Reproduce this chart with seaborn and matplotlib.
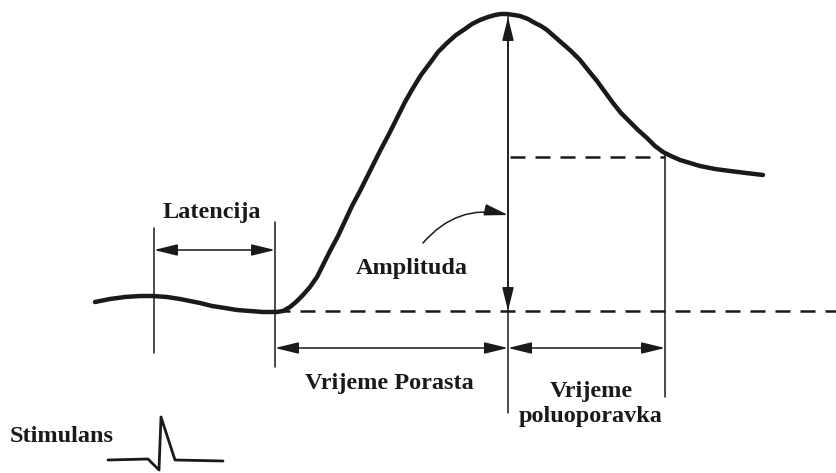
import matplotlib
matplotlib.use("Agg")
import matplotlib.pyplot as plt
import seaborn as sns
import pandas as pd

# response curve (pixel coords, y down)
curve_x = [95, 110, 125, 140, 153, 167, 180, 190, 200, 212, 225, 237, 250, 263, 277,
           283, 290, 296, 303, 310, 317, 323, 330, 338, 345, 352, 360, 370, 380, 389,
           397, 405, 413, 421, 430, 438, 447, 456, 465, 472, 480, 488, 495, 501, 507,
           514, 520, 528, 535, 541, 547, 555, 563, 571, 580, 588, 597, 605, 613, 621,
           630, 638, 647, 655, 663, 671, 680, 690, 700, 715, 730, 746, 763]
curve_y = [302, 299, 297, 296, 296, 297, 299, 301, 303, 306, 308, 310, 311, 312, 312,
           311, 307, 302, 295, 287, 277, 265, 251, 236, 221, 206, 191, 171, 151, 134,
           118, 102, 88, 75, 63, 52, 43, 35, 29, 24, 20, 17, 15, 14, 14,
           15, 16, 19, 23, 26, 30, 37, 44, 51, 60, 70, 81, 92, 103, 113,
           122, 130, 138, 146, 152, 156, 160, 163, 166, 169, 171, 173, 175]

# stimulus blip
stim_x = [108, 148, 159, 161, 175, 223]
stim_y = [460, 459, 470, 417, 460, 461]

labels = ["Latencija", "Amplituda", "Vrijeme Porasta", "Vrijeme\npoluoporavka", "Stimulans"]

# key times / levels
t_stim, t_onset, t_peak, t_half = 154, 275, 508, 665
y_base, y_peak, y_half = 311, 15, 157

sns.set_style("white")
fig = plt.figure(figsize=(8.37, 4.73), dpi=100)
ax = fig.add_axes([0, 0, 1, 1])
ax.set_xlim(0, 837)
ax.set_ylim(473, 0)
ax.axis("off")

ink = "#1a1a1a"
thin = 1.1
font = dict(family="Liberation Serif", fontweight="bold", fontsize=17.5, color=ink)

df = pd.DataFrame({"x": curve_x, "y": curve_y})
sns.lineplot(data=df, x="x", y="y", sort=False, color=ink, lw=3.2, ax=ax,
             solid_joinstyle="round", solid_capstyle="round")
sns.lineplot(x=stim_x, y=stim_y, sort=False, color=ink, lw=2, ax=ax)

# vertical markers
ax.plot([t_stim, t_stim], [228, 353], color=ink, lw=thin)
ax.plot([t_onset, t_onset], [222, 367], color=ink, lw=thin)
ax.plot([t_peak, t_peak], [y_peak, 413], color=ink, lw=thin)
ax.plot([t_half, t_half], [y_half - 2, 397], color=ink, lw=thin)

# dashed reference levels
ax.plot([t_onset, 837], [y_base, y_base], color=ink, lw=1.8, linestyle=(0, (6, 4)))
ax.plot([t_peak + 2, t_half], [y_half, y_half], color=ink, lw=1.8, linestyle=(0, (6, 4)))

head = "<|-|>,head_length=0.9,head_width=0.22"
arrow = dict(arrowstyle=head, color=ink, lw=thin, mutation_scale=16,
             shrinkA=0, shrinkB=0)
ax.annotate("", xy=(t_stim, 250), xytext=(t_onset, 250), arrowprops=arrow)
ax.annotate("", xy=(t_onset, 348), xytext=(t_peak, 348), arrowprops=arrow)
ax.annotate("", xy=(t_peak, 348), xytext=(t_half, 348), arrowprops=arrow)
ax.annotate("", xy=(t_peak, y_peak + 2), xytext=(t_peak, y_base), arrowprops=arrow)
ax.annotate("", xy=(t_peak, 215), xytext=(423, 243),
            arrowprops=dict(arrowstyle="-|>,head_length=0.9,head_width=0.22",
                            color=ink, lw=thin, mutation_scale=16,
                            shrinkA=0, shrinkB=0, connectionstyle="arc3,rad=-0.3"))

ax.text(212, 212, labels[0], ha="center", va="center", **font)
ax.text(412, 268, labels[1], ha="center", va="center", **font)
ax.text(389, 383, labels[2], ha="center", va="center", **font)
ax.text(591, 404, labels[3], ha="center", va="center", linespacing=1.3, **font)
ax.text(10, 436, labels[4], ha="left", va="center", **font)

fig.savefig("out.png", dpi=100)
